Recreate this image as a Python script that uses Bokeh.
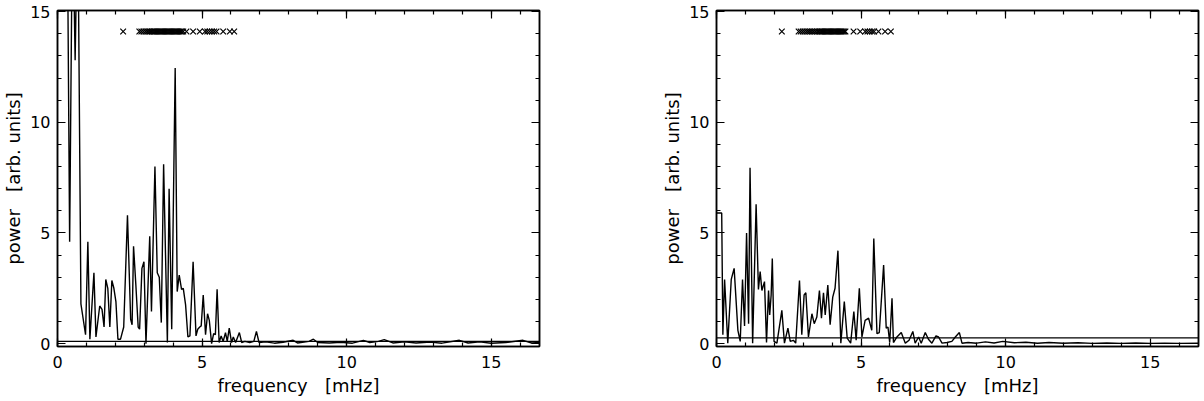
from bokeh.plotting import figure
from bokeh.models import LinearAxis, SingleIntervalTicker, Span, Range1d, CustomLabelingPolicy
from bokeh.layouts import row
from bokeh.embed import file_html
from bokeh.resources import INLINE

# ---- data ----
x_ticks = [0, 5, 10, 15]
y_ticks = [0, 5, 10, 15]
x_label = "frequency\u00a0\u00a0\u00a0[mHz]"
y_label = "power\u00a0\u00a0\u00a0[arb.\u00a0units]"

left_freq = [0.00, 0.28, 0.42, 0.52, 0.61, 0.70, 0.81, 0.97, 1.05, 1.12, 1.26, 1.33, 1.46, 1.54,
             1.61, 1.67, 1.74, 1.81, 1.88, 1.95, 2.02, 2.09, 2.18, 2.29, 2.42, 2.53, 2.58, 2.63,
             2.71, 2.79, 2.84, 2.92, 2.99, 3.06, 3.19, 3.25, 3.37, 3.45, 3.52, 3.59, 3.67, 3.80,
             3.86, 3.95, 4.07, 4.14, 4.21, 4.29, 4.35, 4.43, 4.51, 4.58, 4.69, 4.79, 4.85, 4.92,
             4.97, 5.04, 5.12, 5.19, 5.25, 5.33, 5.40, 5.46, 5.52, 5.59, 5.66, 5.73, 5.81, 5.87,
             5.94, 6.02, 6.08, 6.16, 6.29, 6.37, 6.48, 6.65, 6.79, 6.88, 6.97, 7.20, 7.50, 7.80,
             8.15, 8.30, 8.70, 8.85, 9.00, 9.40, 9.80, 10.20, 10.58, 10.80, 11.10, 11.30, 11.60,
             12.00, 12.40, 12.90, 13.30, 13.90, 14.20, 14.60, 15.00, 15.50, 16.10, 16.40, 16.67]
left_power = [30.0, 30.0, 4.6, 20.0, 12.8, 20.0, 1.8, 0.4, 4.6, 0.2, 3.2, 0.3, 1.7, 1.55,
              0.75, 2.9, 2.5, 0.75, 2.85, 2.5, 1.9, 0.2, 0.2, 0.75, 5.8, 1.1, 0.85, 4.4,
              2.65, 0.75, 0.65, 3.4, 3.7, 0.0, 4.85, 1.45, 8.0, 3.2, 3.0, 0.95, 8.1, 0.05,
              7.0, 0.65, 12.45, 2.35, 3.1, 2.45, 2.5, 1.75, 0.3, 0.35, 3.7, 0.35, 0.65, 0.75,
              0.8, 2.2, 0.4, 1.35, 1.05, 0.0, 0.45, 0.4, 2.45, 0.05, 0.35, 0.1, 0.5, 0.1,
              0.7, 0.05, 0.3, 0.05, 0.5, 0.05, 0.1, 0.05, 0.1, 0.55, 0.05, 0.08, 0.02, 0.06,
              0.15, 0.03, 0.1, 0.2, 0.05, 0.03, 0.06, 0.02, 0.15, 0.05, 0.1, 0.18, 0.03,
              0.08, 0.03, 0.07, 0.02, 0.15, 0.03, 0.08, 0.02, 0.05, 0.15, 0.03, 0.05]

right_freq = [0.00, 0.18, 0.22, 0.28, 0.39, 0.51, 0.61, 0.74, 0.82, 0.90, 0.97, 1.04, 1.11, 1.16,
              1.25, 1.37, 1.45, 1.51, 1.57, 1.66, 1.73, 1.80, 1.84, 1.89, 1.93, 1.99, 2.09, 2.26,
              2.35, 2.47, 2.55, 2.66, 2.74, 2.87, 2.95, 3.03, 3.09, 3.18, 3.30, 3.38, 3.47, 3.56,
              3.63, 3.70, 3.76, 3.85, 3.93, 4.02, 4.10, 4.20, 4.30, 4.42, 4.52, 4.64, 4.75, 4.83,
              4.94, 5.03, 5.14, 5.26, 5.37, 5.44, 5.55, 5.63, 5.78, 5.87, 5.93, 5.99, 6.07, 6.12,
              6.24, 6.39, 6.53, 6.66, 6.79, 6.87, 6.99, 7.08, 7.22, 7.33, 7.45, 7.59, 7.68, 7.80,
              7.97, 8.14, 8.26, 8.40, 8.49, 8.70, 9.00, 9.30, 9.60, 9.90, 10.30, 10.70, 11.10,
              11.50, 12.00, 12.50, 13.00, 13.50, 14.00, 14.50, 15.00, 15.50, 16.00, 16.67]
right_power = [5.9, 5.9, 0.4, 2.9, 0.02, 2.9, 3.4, 0.6, 0.1, 2.9, 0.8, 5.0, 0.9, 7.95,
               0.02, 6.3, 2.45, 3.25, 2.4, 2.8, 0.05, 2.4, 1.3, 2.2, 3.85, 0.1, 0.02, 1.5,
               0.02, 0.7, 0.1, 0.15, 0.02, 2.85, 0.4, 2.2, 2.3, 0.3, 1.35, 0.9, 1.2, 2.4,
               1.15, 2.3, 1.3, 2.65, 0.85, 2.1, 2.5, 4.2, 0.02, 1.9, 0.25, 0.02, 1.45, 0.15,
               2.5, 0.3, 1.05, 1.15, 0.6, 4.75, 0.45, 0.5, 3.55, 0.7, 0.75, 0.05, 2.05, 0.05,
               0.3, 0.5, 0.02, 0.15, 0.55, 0.02, 0.3, 0.02, 0.5, 0.2, 0.02, 0.35, 0.3, 0.02,
               0.05, 0.1, 0.3, 0.5, 0.02, 0.05, 0.02, 0.08, 0.03, 0.1, 0.04, 0.06, 0.02,
               0.05, 0.02, 0.04, 0.01, 0.03, 0.01, 0.03, 0.01, 0.02, 0.01, 0.02]

left_modes = [2.27, 2.83, 2.90, 2.97, 3.04, 3.10, 3.16, 3.21, 3.26, 3.30, 3.34, 3.38, 3.42, 3.46,
              3.50, 3.54, 3.58, 3.62, 3.66, 3.70, 3.74, 3.78, 3.82, 3.86, 3.90, 3.94, 3.98, 4.02,
              4.06, 4.10, 4.14, 4.18, 4.22, 4.26, 4.30, 4.35, 4.46, 4.69, 4.92, 5.10, 5.18, 5.26,
              5.34, 5.42, 5.50, 5.73, 5.96, 6.11]
right_modes = [2.26, 2.84, 2.91, 2.98, 3.05, 3.12, 3.18, 3.24, 3.30, 3.36, 3.42, 3.48, 3.53, 3.58,
               3.62, 3.66, 3.70, 3.74, 3.78, 3.82, 3.86, 3.90, 3.94, 3.98, 4.02, 4.06, 4.10, 4.14,
               4.18, 4.22, 4.26, 4.30, 4.34, 4.38, 4.42, 4.46, 4.74, 4.97, 5.14, 5.22, 5.30, 5.38,
               5.45, 5.60, 5.83, 6.03]
mode_level = 14.1

left_noise_level = 0.1
right_noise_level = 0.26

x_lim = (0, 16.67)
y_lim = (-0.13, 15.05)

FONT = "DejaVu Sans"
TICK_FS = "16px"
LABEL_FS = "18px"

HIDE_ALL = CustomLabelingPolicy(code="""
for (const i of indices) indices.unset(i)
return indices
""")


def style_axis(ax, show_labels):
    ax.axis_line_width = 1.5
    ax.axis_line_color = "black"
    ax.major_tick_in = 8
    ax.major_tick_out = 0
    ax.minor_tick_in = 4
    ax.minor_tick_out = 0
    ax.major_tick_line_width = 1.2
    ax.minor_tick_line_width = 1.2
    ax.major_tick_line_color = "black"
    ax.minor_tick_line_color = "black"
    if show_labels:
        ax.major_label_text_font = FONT
        ax.major_label_text_font_size = TICK_FS
        ax.major_label_text_color = "black"
        ax.axis_label_text_font = FONT
        ax.axis_label_text_font_size = LABEL_FS
        ax.axis_label_text_font_style = "normal"
        ax.axis_label_text_color = "black"
    else:
        ax.major_label_text_font_size = "1px"
        ax.major_label_standoff = 0
        ax.major_label_policy = HIDE_ALL


def make_panel(freq, power, modes, level, border_right):
    p = figure(frame_width=482, frame_height=336,
               x_range=Range1d(*x_lim), y_range=Range1d(*y_lim),
               output_backend="svg", toolbar_location=None,
               min_border_left=53, min_border_right=border_right,
               min_border_top=10, min_border_bottom=0)
    p.grid.visible = False
    p.outline_line_color = "black"
    p.outline_line_width = 1.5
    p.background_fill_color = "white"
    p.border_fill_color = "white"

    p.line(freq, power, line_color="black", line_width=1.4)
    p.scatter(modes, [mode_level] * len(modes), marker="x", size=8,
              line_color="black", line_width=1.2)
    p.add_layout(Span(location=level, dimension="width", line_color="black", line_width=1.2))

    p.xaxis.ticker = SingleIntervalTicker(interval=5, num_minor_ticks=5)
    p.yaxis.ticker = SingleIntervalTicker(interval=5, num_minor_ticks=5)
    p.xaxis.axis_label = x_label
    p.yaxis.axis_label = y_label
    for ax in p.xaxis:
        style_axis(ax, True)
        ax.major_label_standoff = 9
        ax.axis_label_standoff = 4
    for ax in p.yaxis:
        style_axis(ax, True)
        ax.major_label_standoff = 7
        ax.axis_label_standoff = 3

    top = LinearAxis(ticker=SingleIntervalTicker(interval=5, num_minor_ticks=5))
    right = LinearAxis(ticker=SingleIntervalTicker(interval=5, num_minor_ticks=5))
    style_axis(top, False)
    style_axis(right, False)
    p.add_layout(top, "above")
    p.add_layout(right, "right")
    return p


p1 = make_panel(left_freq, left_power, left_modes, left_noise_level, 120)
p2 = make_panel(right_freq, right_power, right_modes, right_noise_level, 0)
layout = row(p1, p2)

open("out.html", "w").write(file_html(layout, INLINE))
